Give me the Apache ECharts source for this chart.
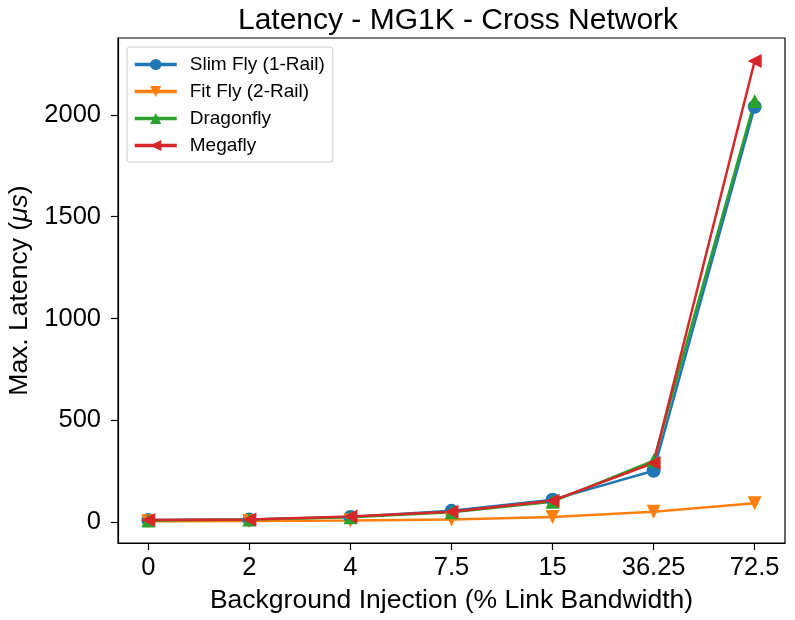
<!DOCTYPE html>
<html>
<head>
<meta charset="utf-8">
<script src="https://cdn.jsdelivr.net/npm/echarts@6/dist/echarts.min.js"></script>
<style>html,body{margin:0;padding:0;background:#fff}#c{width:795px;height:620px}</style>
</head>
<body>
<div id="c"></div>
<script>
const categories = ['0', '2', '4', '7.5', '15', '36.25', '72.5'];
const slimFly = [10, 12, 25, 55, 110, 252, 2040];
const fitFly = [4, 5, 8, 13, 25, 50, 92];
const dragonfly = [8, 12, 24, 48, 100, 302, 2068];
const megafly = [10, 13, 27, 50, 105, 290, 2265];
const yTicks = [0, 500, 1000, 1500, 2000];

const font = 'Liberation Sans, Arial, sans-serif';
function pts(arr) { return arr.map((v, i) => [i, v]); }

const chart = echarts.init(document.getElementById('c'), null, {renderer: 'canvas'});
const mk = (name, data, color, symbol) => ({
  name, type: 'line', data: pts(data), symbol, symbolSize: 14,
  lineStyle: {color, width: 2.5}, itemStyle: {color}, animation: false, z: 3
});
chart.setOption({
  animation: false,
  title: {text: 'Latency - MG1K - Cross Network', left: 453, textAlign: 'center', top: 1,
    textStyle: {fontFamily: font, fontSize: 30, fontWeight: 'normal', color: '#000'}},
  grid: {left: 118, right: 10, top: 38, bottom: 77, show: true, borderColor: '#000', borderWidth: 1.2,
    containLabel: false, outerBoundsMode: 'none'},
  legend: {
    orient: 'vertical', left: 127, top: 47, itemGap: 8, itemWidth: 42, itemHeight: 14,
    padding: [8, 8, 7, 6],
    borderColor: '#d0d0d0', borderWidth: 1.2, borderRadius: 3, backgroundColor: 'rgba(255,255,255,0.8)',
    lineStyle: {width: 3.5},
    textStyle: {fontFamily: font, fontSize: 19, color: '#000', padding: [0, 0, 0, 8]},
    data: ['Slim Fly (1-Rail)', 'Fit Fly (2-Rail)', 'Dragonfly', 'Megafly']
  },
  xAxis: {
    type: 'value', min: -0.3, max: 6.3,
    name: 'Background Injection (% Link Bandwidth)', nameLocation: 'middle', nameGap: 44,
    nameTextStyle: {fontFamily: font, fontSize: 26.5, color: '#000'},
    axisLine: {onZero: false, lineStyle: {color: '#000', width: 1.2}},
    axisTick: {show: true, length: 7, lineStyle: {color: '#000', width: 1.2}, customValues: [0,1,2,3,4,5,6]},
    axisLabel: {fontFamily: font, fontSize: 25.5, color: '#000', margin: 12,
      customValues: [0,1,2,3,4,5,6], formatter: v => categories[Math.round(v)]},
    splitLine: {show: false}
  },
  yAxis: {
    type: 'value', min: -103, max: 2378,
    name: 'Max. Latency ({i|μs})', nameLocation: 'middle', nameGap: 82,
    nameTextStyle: {fontFamily: font, fontSize: 26.5, color: '#000',
      rich: {i: {fontFamily: font, fontSize: 26.5, fontStyle: 'italic', color: '#000'}}},
    axisLine: {show: true, onZero: false, lineStyle: {color: '#000', width: 1.2}},
    axisTick: {show: true, length: 7, lineStyle: {color: '#000', width: 1.2}, customValues: yTicks},
    axisLabel: {fontFamily: font, fontSize: 25.5, color: '#000', margin: 17, customValues: yTicks,
      formatter: v => String(v)},
    splitLine: {show: false}
  },
  series: [
    mk('Slim Fly (1-Rail)', slimFly, '#1f77b4', 'circle'),
    mk('Fit Fly (2-Rail)', fitFly, '#ff7f0e', 'path://M0,0 L2,0 L1,1.8 Z'),
    mk('Dragonfly', dragonfly, '#2ca02c', 'path://M1,0 L2,1.8 L0,1.8 Z'),
    mk('Megafly', megafly, '#d62728', 'path://M1.8,0 L1.8,2 L0,1 Z')
  ]
});
</script>
</body>
</html>
